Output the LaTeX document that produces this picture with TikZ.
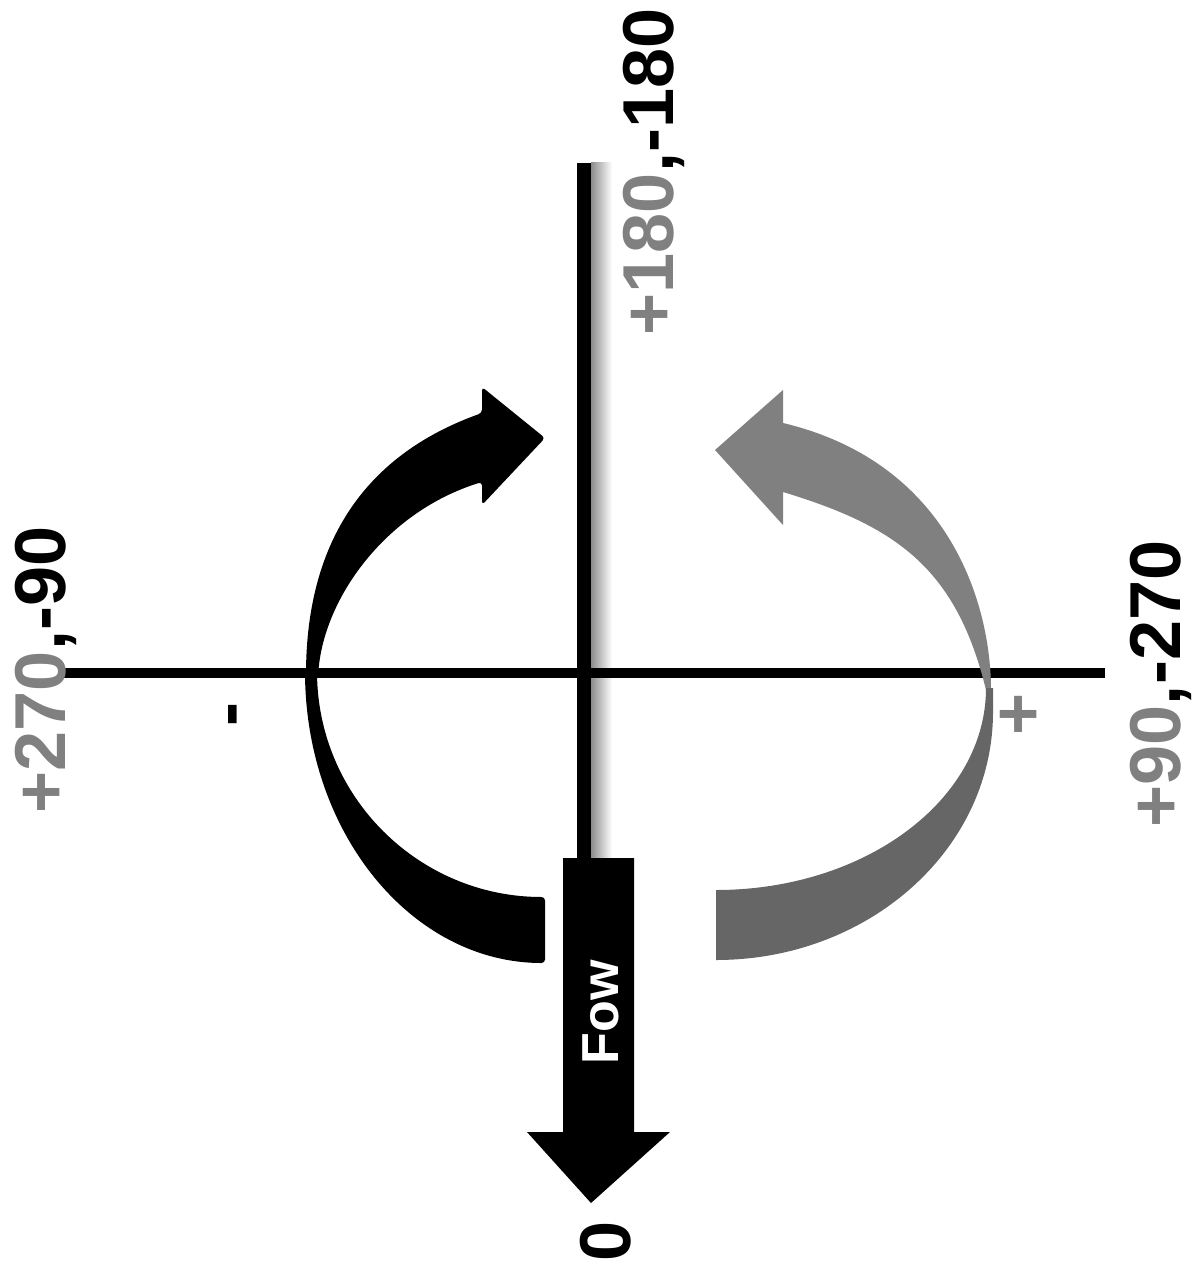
\documentclass[tikz,border=0pt]{standalone}
\usepackage{fontspec}
\setmainfont{Liberation Sans}
\usetikzlibrary{positioning}
\definecolor{midgray}{HTML}{808080}
\definecolor{lowgray}{HTML}{666666}
\tikzset{
  vaxis/.style={line width=0.14cm},
  haxis/.style={line width=0.10cm},
  lbl/.style={font=\bfseries\fontsize{20.5}{24}\selectfont,rotate=90,anchor=base,inner sep=0pt},
  flowtxt/.style={font=\bfseries\fontsize{14.8}{18}\selectfont,text=white,rotate=90,anchor=base,inner sep=0pt},
  turnfwd/.style={fill=black,rounded corners=1pt},
  turnback/.style={fill=midgray},
  turnbacklow/.style={fill=lowgray},
}
\begin{document}
\begin{tikzpicture}[x=0.01cm,y=-0.01cm]
    \useasboundingbox (0,0) rectangle (1192,1279);
    % ---------------- axes ----------------
    \coordinate (top) at (584,163);
    \coordinate (hub) at (584,858);
    \coordinate (west) at (63,673);
    \coordinate (east) at (1105,673);
    \shade[left color=black!45,right color=white] (591,163) rectangle (612,858);
    \draw[vaxis] (top) -- (hub);
    \draw[haxis] (west) -- (east);
    % ---------------- left turn (black) ----------------
    \fill[turnfwd] (306,678) .. controls (306,559) and (351,460) .. (482,413)
      -- (482,387) -- (545,438) -- (482,505) -- (482,482)
      .. controls (385,512) and (322,600) .. (318,678) -- cycle;
    \fill[turnfwd] (305,668) .. controls (305,833) and (412,963) .. (545,963)
      -- (545,897) .. controls (419,897) and (317,797) .. (317,668) -- cycle;
    % ---------------- right turn (gray) ----------------
    \fill[turnback] (991,690) .. controls (991,606) and (951,463) .. (783,423)
      -- (783,390) -- (715,450) -- (783,525) -- (783,492)
      .. controls (895,526) and (956,567) .. (986,690) -- cycle;
    \fill[turnbacklow] (993,688) -- (993,712) .. controls (993,849) and (869,960) .. (716,960)
      -- (716,890) .. controls (865,890) and (986,800) .. (986,688) -- cycle;
    % ---------------- flow arrow ----------------
    \fill[black] (563,858) -- (634,858) -- (634,1132) -- (670,1132) -- (591,1203)
      -- (527,1132) -- (563,1132) -- cycle;
    \node[flowtxt] (fow) at (618,1012) {Fow};
    % ---------------- labels ----------------
    \node[lbl] (deg180) at (673,172) {\textcolor{midgray}{+180},-180};
    \node[lbl] (deg270) at (65,670) {\textcolor{midgray}{+270},-90};
    \node[lbl] (deg90) at (1180,684) {\textcolor{midgray}{+90},-270};
    \node[lbl] (deg0) at (630,1241) {0};
    \node[lbl] (minus) at (251,714) {-};
    \node[lbl,text=midgray] (plus) at (1042,714) {+};
\end{tikzpicture}
\end{document}
